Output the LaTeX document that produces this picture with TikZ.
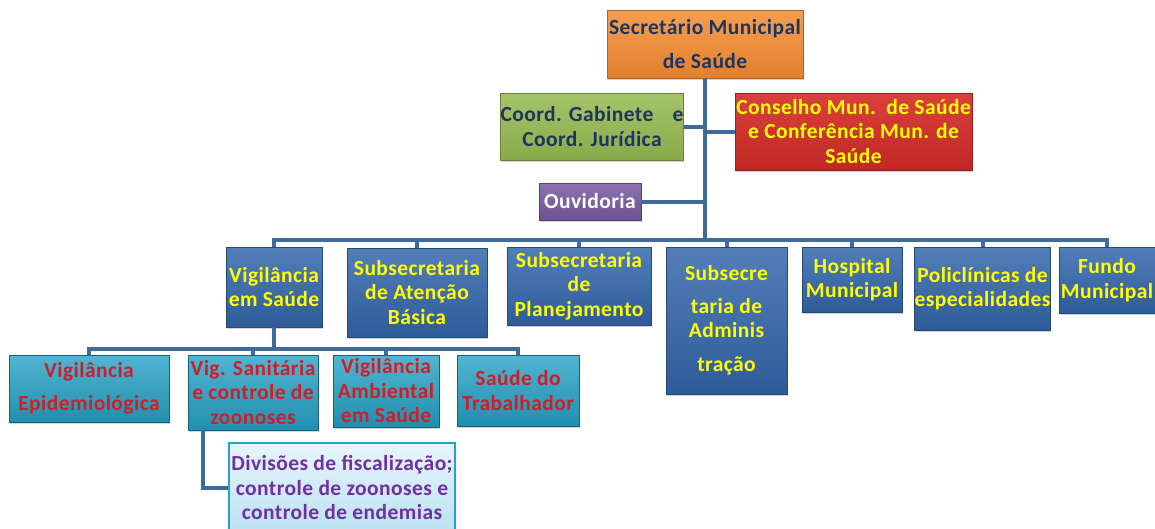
\documentclass[tikz,border=0pt]{standalone}
\usepackage{fontspec}
\setmainfont{Carlito}[LetterSpace=2]
\usepackage{tikz}
\usetikzlibrary{shadows}
\definecolor{ConnColor}{RGB}{63,106,156}
\definecolor{SecColor}{RGB}{245,140,50}
\definecolor{CoordColor}{RGB}{150,185,80}
\definecolor{ConsColor}{RGB}{214,44,40}
\definecolor{OuvColor}{RGB}{120,90,160}
\definecolor{SubColor}{RGB}{52,104,172}
\definecolor{VigColor}{RGB}{38,162,198}
\definecolor{DivColor}{RGB}{186,226,243}
\definecolor{NavyText}{RGB}{28,52,96}
\definecolor{YellowText}{RGB}{255,255,0}
\definecolor{RedText}{RGB}{208,30,40}
\definecolor{PurpleText}{RGB}{112,48,160}
\tikzstyle{box} = [rectangle, inner sep=0pt, align=center, font=\bfseries\fontsize{21.5}{24.5}\selectfont, drop shadow={shadow xshift=1pt, shadow yshift=-2pt, opacity=0.35}]
\tikzstyle{secbox} = [box, draw=SecColor!70!black, top color=SecColor!85!white, bottom color=SecColor!92!black, text=NavyText]
\tikzstyle{coordbox} = [box, draw=CoordColor!70!black, top color=CoordColor!85!white, bottom color=CoordColor!92!black, text=NavyText]
\tikzstyle{consbox} = [box, draw=ConsColor!70!black, top color=ConsColor!90!white, bottom color=ConsColor!90!black, text=YellowText]
\tikzstyle{ouvbox} = [box, draw=OuvColor!70!black, top color=OuvColor!85!white, bottom color=OuvColor!90!black, text=white]
\tikzstyle{subbox} = [box, draw=SubColor!70!black, top color=SubColor!85!white, bottom color=SubColor!88!black, text=YellowText]
\tikzstyle{vigbox} = [box, draw=VigColor!60!black, top color=VigColor!80!white, bottom color=VigColor!88!black, text=RedText]
\tikzstyle{divbox} = [box, draw=VigColor, line width=2pt, top color=DivColor!35!white, bottom color=DivColor, text=PurpleText]
\tikzstyle{conn} = [line width=4pt, ConnColor]

\begin{document}
\begin{tikzpicture}[x=1pt, y=-1pt]
    \useasboundingbox (0,0) rectangle (1155,528);
    % top of the chart
    \node[secbox, minimum width=196pt, minimum height=68pt] (sec) at (705,44) {Secretário Municipal\\[9.5pt] de Saúde};
    \node[coordbox, minimum width=180pt, minimum height=67pt] (coord) at (592,126.5) {Coord. Gabinete\hspace{14pt} e\\ Coord. Jurídica};
    \node[consbox, minimum width=237pt, minimum height=77pt] (cons) at (853.5,131.5) {Conselho Mun.\ \ de Saúde\\ e Conferência Mun. de\\ Saúde};
    \node[ouvbox, minimum width=102pt, minimum height=37pt] (ouv) at (590,201.5) {Ouvidoria};
    % second level
    \node[subbox, minimum width=96pt, minimum height=80pt] (vsaude) at (274,287) {Vigilância\\ em Saúde};
    \node[subbox, minimum width=140pt, minimum height=89pt] (atb) at (417,292.5) {Subsecretaria\\ de Atenção\\ Básica};
    \node[subbox, minimum width=144pt, minimum height=78pt] (plan) at (579,286) {Subsecretaria\\ de\\ Planejamento};
    \node[subbox, minimum width=121pt, minimum height=147pt] (adm) at (726.5,320.5) {Subsecre\\[8pt] taria de\\ Adminis\\[9pt] tração};
    \node[subbox, minimum width=100pt, minimum height=65pt] (hosp) at (852,279.5) {Hospital\\ Municipal};
    \node[subbox, minimum width=135pt, minimum height=83pt] (poli) at (982.5,288.5) {Policlínicas de\\ especialidades};
    \node[subbox, minimum width=96pt, minimum height=66pt] (fundo) at (1107,280) {Fundo\\ Municipal};
    % third level
    \node[vigbox, minimum width=160pt, minimum height=67pt] (epid) at (89,388.5) {Vigilância\\[9pt] Epidemiológica};
    \node[vigbox, minimum width=130pt, minimum height=75pt] (vsan) at (253,392.5) {Vig. Sanitária\\ e controle de\\ zoonoses};
    \node[vigbox, minimum width=106pt, minimum height=72pt] (amb) at (386,391) {Vigilância\\ Ambiental\\ em Saúde};
    \node[vigbox, minimum width=122pt, minimum height=71pt] (trab) at (518,390.5) {Saúde do\\ Trabalhador};
    \node[divbox, minimum width=226pt, minimum height=90pt] (div) at (342,488) {Divisões de fiscalização;\\ controle de zoonoses e\\ controle de endemias};
    % connectors
    \coordinate (bus) at (706,240);
    \coordinate (bus3) at (274,349);
    \draw[conn] (sec.south) -- (sec.south |- bus);
    \draw[conn] (coord.east) -- (coord.east -| sec.south);
    \draw[conn] (cons.west) -- (cons.west -| sec.south);
    \draw[conn] (ouv.east) -- (ouv.east -| sec.south);
    \foreach \n in {vsaude,atb,plan,adm,hosp,poli,fundo}
        \draw[conn] (sec.south |- bus) -| (\n.north);
    \draw[conn] (vsaude.south) -- (vsaude.south |- bus3);
    \foreach \n in {epid,vsan,amb,trab}
        \draw[conn] (vsaude.south |- bus3) -| (\n.north);
    \draw[conn] ([xshift=-50pt]vsan.south) |- (div.west);
\end{tikzpicture}
\end{document}
